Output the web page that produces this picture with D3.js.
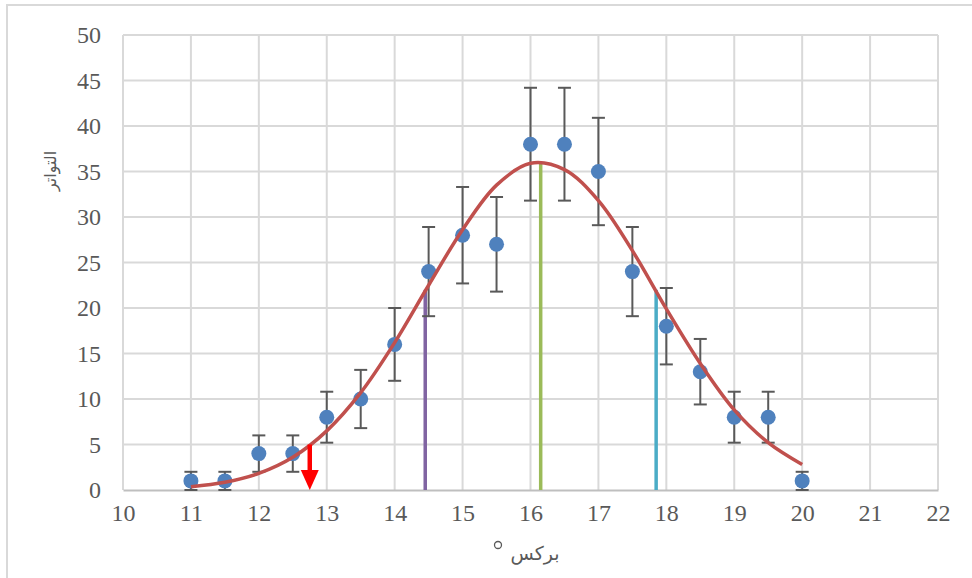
<!DOCTYPE html>
<html>
<head>
<meta charset="utf-8">
<script src="https://cdn.jsdelivr.net/npm/d3@7"></script>
<style>
  body { margin: 0; background: #fff; }
  svg text { font-family: "Liberation Serif", serif; fill: #595959; }
</style>
</head>
<body>
<script>
// measured points (x, count, error)
var xs = [11, 11.5, 12, 12.5, 13, 13.5, 14, 14.5, 15, 15.5, 16, 16.5, 17, 17.5, 18, 18.5, 19, 19.5, 20];
var counts = [1, 1, 4, 4, 8, 10, 16, 24, 28, 27, 38, 38, 35, 24, 18, 13, 8, 8, 1];
var errs = [1, 1, 2, 2, 2.8, 3.2, 4, 4.9, 5.3, 5.2, 6.2, 6.2, 5.9, 4.9, 4.2, 3.6, 2.8, 2.8, 1];

// fitted curve
var curveX = [11, 11.5, 12, 12.5, 13, 13.5, 14, 14.5, 15, 15.5, 16, 16.5, 17, 17.5, 18, 18.5, 19, 19.5, 20];
var curveY = [0.37, 0.85, 1.83, 3.6, 6.5, 10.7, 16.2, 22.5, 28.6, 33.5, 35.9, 35.2, 31.8, 26.3, 19.9, 13.9, 8.8, 5.2, 2.8];

// marker lines: x, top value, colour
var markX = [14.45, 16.15, 17.85];
var markTop = [22, 36, 22];
var markColors = ["#8064A2", "#9BBB59", "#4BACC6"];
var arrowX = 12.75, arrowTop = 5;

var xTicks = [10, 11, 12, 13, 14, 15, 16, 17, 18, 19, 20, 21, 22];
var yTicks = [0, 5, 10, 15, 20, 25, 30, 35, 40, 45, 50];

var width = 972, height = 578;
var plotLeft = 123, plotRight = 938, plotTop = 35, plotBottom = 490;

var svg = d3.select("body").append("svg")
  .attr("width", width)
  .attr("height", height);

// chart frame
svg.append("path")
  .attr("d", "M7,600 L7,5 L980,5")
  .attr("fill", "none")
  .attr("stroke", "#D9D9D9")
  .attr("stroke-width", 2);

var x = d3.scaleLinear().domain([10, 22]).range([plotLeft, plotRight]);
var y = d3.scaleLinear().domain([0, 50]).range([plotBottom, plotTop]);

// grid
svg.append("g").selectAll("line")
  .data(xTicks).enter().append("line")
  .attr("x1", d => x(d)).attr("x2", d => x(d))
  .attr("y1", plotTop).attr("y2", plotBottom)
  .attr("stroke", "#D9D9D9").attr("stroke-width", 2);

svg.append("g").selectAll("line")
  .data(yTicks.slice(1)).enter().append("line")
  .attr("x1", plotLeft).attr("x2", plotRight)
  .attr("y1", d => y(d)).attr("y2", d => y(d))
  .attr("stroke", "#D9D9D9").attr("stroke-width", 2);

// axes (labels only, Excel style)
var xAxis = svg.append("g")
  .attr("transform", "translate(0," + plotBottom + ")")
  .call(d3.axisBottom(x).tickValues(xTicks).tickSize(0).tickPadding(14));
xAxis.select(".domain").attr("stroke", "#BFBFBF").attr("stroke-width", 2);
xAxis.attr("font-family", null).attr("font-size", null);
xAxis.selectAll("text").style("font-size", "24px").attr("fill", "#595959");

var yAxis = svg.append("g")
  .attr("transform", "translate(" + (plotLeft - 22) + ",0)")
  .call(d3.axisLeft(y).tickValues(yTicks).tickSize(0).tickPadding(0));
yAxis.select(".domain").remove();
yAxis.attr("font-family", null).attr("font-size", null);
yAxis.selectAll("text").style("font-size", "24px").attr("fill", "#595959");

// axis titles
svg.append("text")
  .attr("transform", "translate(56,171) rotate(-90)")
  .attr("text-anchor", "middle")
  .style("font-family", "'DejaVu Sans', sans-serif")
  .style("font-size", "16px")
  .text("التواتر");

svg.append("text")
  .attr("x", 535).attr("y", 560)
  .attr("text-anchor", "middle")
  .style("font-family", "'DejaVu Sans', sans-serif")
  .style("font-size", "19px")
  .text("برکس");

svg.append("circle")
  .attr("cx", 498).attr("cy", 545).attr("r", 3.5)
  .attr("fill", "none").attr("stroke", "#595959").attr("stroke-width", 1.3);

// marker lines
svg.append("g").selectAll("line")
  .data(markX).enter().append("line")
  .attr("x1", d => x(d)).attr("x2", d => x(d))
  .attr("y1", plotBottom).attr("y2", (d, i) => y(markTop[i]))
  .attr("stroke", (d, i) => markColors[i])
  .attr("stroke-width", 3.5);

// error bars
var eb = svg.append("g").attr("stroke", "#595959").attr("stroke-width", 2);
xs.forEach(function (d, i) {
  var hi = y(counts[i] + errs[i]), lo = y(Math.max(0, counts[i] - errs[i]));
  eb.append("line").attr("x1", x(d)).attr("x2", x(d)).attr("y1", hi).attr("y2", lo);
  eb.append("line").attr("x1", x(d) - 6.5).attr("x2", x(d) + 6.5).attr("y1", hi).attr("y2", hi);
  eb.append("line").attr("x1", x(d) - 6.5).attr("x2", x(d) + 6.5).attr("y1", lo).attr("y2", lo);
});

// points
svg.append("g").selectAll("circle")
  .data(xs).enter().append("circle")
  .attr("cx", d => x(d))
  .attr("cy", (d, i) => y(counts[i]))
  .attr("r", 7.5)
  .attr("fill", "#4F81BD");

// fit curve
var line = d3.line()
  .x((d, i) => x(d))
  .y((d, i) => y(curveY[i]))
  .curve(d3.curveCatmullRom);

svg.append("path")
  .datum(curveX)
  .attr("d", line)
  .attr("fill", "none")
  .attr("stroke", "#C0504D")
  .attr("stroke-width", 3.5);

// red arrow
var ax = x(arrowX);
svg.append("line")
  .attr("x1", ax).attr("x2", ax)
  .attr("y1", y(arrowTop)).attr("y2", plotBottom - 18)
  .attr("stroke", "#FF0000").attr("stroke-width", 4.5);
svg.append("path")
  .attr("d", "M" + (ax - 9) + "," + (plotBottom - 20) + " L" + (ax + 9) + "," + (plotBottom - 20) + " L" + ax + "," + plotBottom + " Z")
  .attr("fill", "#FF0000");
</script>
</body>
</html>
